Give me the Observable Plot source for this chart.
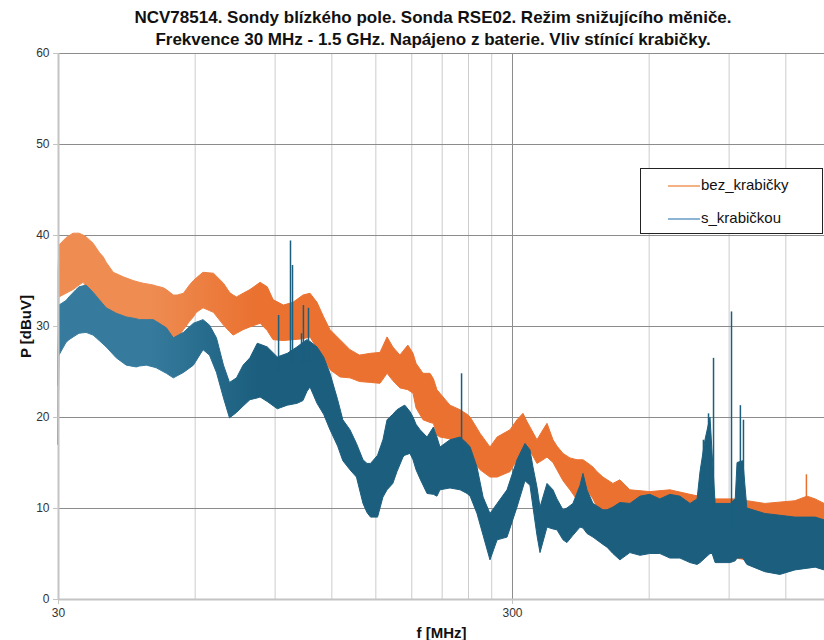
<!DOCTYPE html>
<html><head><meta charset="utf-8">
<script src="https://cdn.jsdelivr.net/npm/d3@7"></script>
<script src="https://cdn.jsdelivr.net/npm/@observablehq/plot@0.6"></script>
<style>
body{margin:0;background:#fff;font-family:"Liberation Sans",Arial,sans-serif;}
#wrap{position:relative;width:824px;height:640px;overflow:hidden;}
#title{position:absolute;left:0;top:7px;width:866px;text-align:center;font-weight:bold;font-size:17px;line-height:22px;color:#111;}
#chart{position:absolute;left:0;top:48px;}
#legend{position:absolute;left:640px;top:168px;width:183px;height:66px;border:1px solid #222;background:#fff;box-sizing:border-box;}
.lrow{position:absolute;left:0;height:20px;font-size:15px;color:#111;}
.lline{position:absolute;left:27px;top:9px;width:32px;height:2px;}
.ltext{position:absolute;left:60px;top:0;white-space:nowrap;}
g[aria-label="x-axis label"] text, g[aria-label="y-axis label"] text{font-weight:bold;font-size:15px;fill:#111;}
</style>
</head><body>
<div id="wrap">
<div id="title"></div>
<div id="chart"></div>
<div id="legend"></div>
</div>
<script>
const titleLines = ["NCV78514. Sondy blízkého pole. Sonda RSE02. Režim snižujícího měniče.",
  "Frekvence 30 MHz - 1.5 GHz. Napájeno z baterie. Vliv stínící krabičky."];
const seriesNames = ["bez_krabičky", "s_krabičkou"];
const xLabel = "f [MHz]";
const yLabel = "P [dBuV]";
const xTickLabels = [30, 300];
const yTicks = [0, 10, 20, 30, 40, 50, 60];
const xGridMinor = [60, 90, 120, 150, 180, 210, 240, 270, 600, 900, 1200];

// bez_krabičky: envelope (min / max) of the dense trace, MHz and dBuV
const bezFreq = [30, 30.15, 31.24, 32.37, 33.37, 34.06, 34.58, 35.85, 36.97, 37.73, 38.31, 39.7, 41.77, 43.9, 45.32, 46.24, 48.65, 49.4, 51.19, 51.98, 53.85, 54.9, 56.68, 58.43, 59.62, 60.54, 62.6, 66.0, 69.44, 71.59, 72.9, 74.19, 76.7, 79.4, 83.6, 86.71, 89.3, 94.06, 98.78, 103.9, 107.7, 111.6, 115.4, 119.2, 125.4, 131.9, 138.4, 146.4, 153.6, 159.2, 163.9, 169.9, 176.9, 181.6, 184.4, 191.0, 197.9, 201.4, 205.0, 208.2, 219.0, 230.5, 238.8, 242.6, 255.2, 268.3, 278.2, 297.0, 307.7, 317.2, 323.7, 340.5, 351.0, 358.3, 369.3, 376.8, 388.6, 402.5, 417.2, 430.0, 438.8, 452.4, 461.5, 475.8, 500.4, 518.5, 545.5, 603.6, 668.2, 740.1, 827.8, 930.8, 1081, 1260, 1339.5, 1396, 1460];
const bezLo = [23.5, 33.2, 33.6, 34, 34.5, 34.8, 34.4, 33.7, 32.6, 32, 31.7, 31.2, 30.7, 30.3, 30.1, 30, 29.9, 29.8, 29.4, 29.2, 28.5, 28.7, 29.6, 30.5, 31, 31.5, 32, 31.5, 30.1, 29.4, 29, 29.2, 29.6, 29.9, 30.3, 29.5, 28.5, 28.4, 28.5, 28.6, 28.8, 27.5, 26.5, 25.2, 24.4, 24.3, 23.9, 23.8, 23.7, 24.8, 24, 23.2, 23, 22.6, 21, 19.7, 19.4, 19.3, 18, 17.8, 17.6, 17, 16, 15.6, 14.2, 13.4, 13.4, 14, 15.3, 16.5, 16.9, 14.9, 15.3, 15.6, 15, 14.2, 13, 12, 10.9, 11.5, 12, 11, 10.1, 9.5, 8.7, 7.5, 5.7, 5.5, 5.5, 5, 5, 4.5, 4, 4, 4, 4, 4];
const bezHi = [36, 38.9, 39.7, 40.2, 40.2, 40, 39.8, 39.1, 38.1, 37.6, 37, 35.9, 35.4, 35, 34.8, 34.7, 34.5, 34.4, 34.2, 34, 33.4, 33.4, 33.6, 34.5, 35, 35.3, 35.9, 35.8, 34.7, 33.7, 33.4, 33.2, 33.6, 34, 34.8, 34.3, 32.9, 32.3, 32.6, 33.4, 33.6, 32.6, 31, 29.6, 28.5, 27.4, 26.8, 27, 27.1, 28.8, 27.7, 26.8, 27.9, 27, 25.9, 24.8, 24.8, 24.2, 23, 22.6, 21.3, 20.8, 20.3, 20, 18.2, 16.7, 17.8, 18.6, 19.7, 20.4, 19.5, 17.5, 18.6, 19.3, 17.5, 16.8, 16, 15.5, 15.3, 15.3, 15, 14.5, 14, 13.4, 12.7, 13.1, 12, 11.8, 12, 11.5, 11, 11, 10.5, 10.8, 11.3, 11, 10.5];
const bezSpikeFreq = [1332];
const bezSpikeBase = [10];
const bezSpikeTop = [13.7];

// s_krabičkou: envelope (min / max) of the dense trace, MHz and dBuV
const sFreq = [30, 30.15, 31.24, 31.72, 32.87, 33.37, 34.58, 35.85, 36.41, 36.97, 38.31, 40.31, 42.41, 44.63, 45.32, 46.95, 48.65, 49.4, 51.98, 53.85, 56.68, 59.62, 62.6, 64.68, 67.01, 69.44, 71.59, 74.19, 76.7, 79.4, 82.42, 83.6, 86.71, 91.25, 95.99, 100.8, 103.9, 106, 107.7, 111.6, 115.4, 119.2, 123.9, 127.2, 131.9, 136.3, 140.9, 143.8, 146.4, 151.7, 155.9, 159.2, 163.9, 167.4, 172.6, 174.2, 178.8, 181.6, 184.4, 188.2, 195, 201.4, 205.0, 208.2, 219.0, 230.5, 238.8, 242.6, 251.2, 259.1, 268.3, 278.2, 292.5, 307.7, 320.4, 328.6, 333.7, 340.5, 345.8, 358.3, 369.3, 376.8, 388.6, 396.4, 408.6, 423.6, 430.0, 438.8, 452.4, 475.8, 485.7, 500.4, 518.5, 545.5, 574.2, 603.6, 635, 668.2, 703.0, 740.1, 767.0, 778.5, 798.3, 819, 827.8, 840.5, 907.5, 930.8, 939.3, 967.3, 987.2, 1081, 1167, 1260, 1396, 1460];
const sLo = [17, 26.8, 28.2, 28.5, 29, 29.2, 29.3, 29, 28.7, 28.4, 27.7, 26.5, 25.7, 25.5, 25.6, 25.7, 25.5, 25.4, 24.8, 24.3, 24.9, 25.7, 27.4, 26.8, 24.9, 22.1, 19.9, 20.5, 21.2, 21.9, 22.1, 22.2, 21.7, 20.9, 21.3, 21.5, 21.8, 22.8, 23.3, 21.5, 20.3, 18.6, 16.8, 15.2, 14.2, 13.4, 10.5, 9.5, 9, 9, 11.2, 12, 12.7, 14, 15.6, 15.8, 16, 15.3, 14.2, 13.2, 11.6, 11.5, 11.3, 12, 12.2, 12, 11.6, 11.3, 9.4, 7, 4.3, 6.5, 6.8, 10.1, 13, 12.5, 10.1, 7, 5.1, 7.9, 7.7, 7.6, 6.5, 6.2, 7, 7.9, 7.8, 7.2, 6.8, 6, 5.7, 5, 4.3, 5.1, 4.8, 5, 5, 4.5, 4.5, 4, 3.8, 4, 4.5, 5, 5, 4, 4, 4.2, 4.5, 4.5, 3.8, 3, 2.7, 3.2, 3.5, 3.2];
const sHi = [27, 32.3, 32.8, 33.2, 34, 34.3, 34.5, 33.7, 33.3, 32.9, 32, 31.4, 31, 30.8, 30.7, 30.7, 30.7, 30.5, 29.8, 28.7, 29.3, 30.3, 30.7, 30.1, 28.7, 25.7, 23.8, 24.3, 25.7, 26.5, 28.1, 28, 27.7, 26.6, 27, 27.7, 28.2, 28.5, 28.3, 27.7, 26.6, 24.8, 21.9, 19.7, 18.6, 17.1, 15.3, 14.9, 14.9, 15.8, 17.5, 19.7, 20.3, 20.8, 21.2, 21.3, 20.6, 20, 19.2, 18.6, 17.8, 18.9, 17.8, 16.7, 17.5, 17.8, 17.1, 16.7, 14.5, 11.2, 9.4, 10.5, 12, 15.3, 17.1, 16.4, 14.5, 12.3, 10.1, 12.7, 12, 11, 9.8, 10, 10.5, 12.5, 13.8, 12, 10.5, 9.8, 9.8, 10.1, 10.6, 10.5, 11.3, 11.5, 11, 11.5, 11.3, 10.5, 11, 14, 17.5, 20, 16, 10.5, 10.5, 11, 15, 15.2, 10, 9.4, 9.2, 9, 9, 8.7];
const sSpikeFreq = [91.6, 97.3, 98.3, 102.9, 103.9, 106.6, 231.7, 790, 810.7, 831.6, 911, 953, 968];
const sSpikeBase = [25, 26, 26, 26, 26, 26, 16, 12, 12, 10, 8, 12, 12];
const sSpikeTop = [31.2, 39.4, 36.7, 29.2, 32.3, 32, 24.8, 17.5, 20.4, 26.5, 31.6, 21.3, 19.7];

const colBez = "#EA7130", colBezLight = "#EE8C52";
const colS = "#1B5E7E", colSLight = "#367B9D";
const legendCols = ["#F4B183", "#8DB4D2"];

const bez = bezFreq.map((f, i) => ({f, lo: bezLo[i], hi: bezHi[i]}));
const sk = sFreq.map((f, i) => ({f, lo: sLo[i], hi: sHi[i]}));
const bezSp = bezSpikeFreq.map((f, i) => ({f, base: bezSpikeBase[i], top: bezSpikeTop[i]}));
const sSp = sSpikeFreq.map((f, i) => ({f, base: sSpikeBase[i], top: sSpikeTop[i]}));

document.getElementById("title").innerHTML = titleLines.join("<br>");

const chart = Plot.plot({
  width: 824, height: 592,
  marginLeft: 58, marginRight: 0, marginTop: 5, marginBottom: 41,
  style: {fontFamily: "'Liberation Sans', Arial, sans-serif", fontSize: "12px", color: "#333", background: "white", overflow: "visible"},
  x: {type: "log", domain: [30, 1460]},
  y: {domain: [0, 60]},
  marks: [
    Plot.ruleX(xGridMinor, {stroke: "#cccccc", strokeWidth: 1}),
    Plot.ruleY(yTicks.filter(d => d > 0), {stroke: "#8c8c8c", strokeWidth: 1}),
    Plot.ruleX([300], {stroke: "#8c8c8c", strokeWidth: 1}),
    Plot.areaY(bez, {x: "f", y1: "lo", y2: "hi", fill: "url(#gBez)", stroke: "url(#gBez)", strokeWidth: 1}),
    Plot.ruleX(bezSp, {x: "f", y1: "base", y2: "top", stroke: colBez, strokeWidth: 1.5}),
    Plot.areaY(sk, {x: "f", y1: "lo", y2: "hi", fill: "url(#gS)", stroke: "url(#gS)", strokeWidth: 1}),
    Plot.ruleX(sSp, {x: "f", y1: "base", y2: "top", stroke: colS, strokeWidth: 1.5}),
    Plot.ruleX([30], {stroke: "#c4c4c4", strokeWidth: 2}),
    Plot.ruleY([0], {stroke: "#c4c4c4", strokeWidth: 2}),
    Plot.axisX(xTickLabels, {tickFormat: d => String(d), tickSize: 5, stroke: "#c4c4c4", label: xLabel, labelAnchor: "center", labelOffset: 38, labelArrow: "none", fill: "#333"}),
    Plot.axisY(yTicks, {tickSize: 5, stroke: "#c4c4c4", label: yLabel, labelAnchor: "center", labelOffset: 38, labelArrow: "none", fill: "#333"})
  ]
});

// horizontal colour gradients (lighter comb-like left part)
const ns = "http://www.w3.org/2000/svg";
const defs = document.createElementNS(ns, "defs");
[["gBez", colBezLight, colBez], ["gS", colSLight, colS]].forEach(([id, c0, c1]) => {
  const g = document.createElementNS(ns, "linearGradient");
  g.setAttribute("id", id);
  g.setAttribute("gradientUnits", "userSpaceOnUse");
  g.setAttribute("x1", "58"); g.setAttribute("x2", "824");
  g.setAttribute("y1", "0"); g.setAttribute("y2", "0");
  [[0, c0], [0.12, c0], [0.26, c1], [1, c1]].forEach(([o, c]) => {
    const s = document.createElementNS(ns, "stop");
    s.setAttribute("offset", o);
    s.setAttribute("stop-color", c);
    g.appendChild(s);
  });
  defs.appendChild(g);
});
chart.insertBefore(defs, chart.firstChild);
document.getElementById("chart").appendChild(chart);

const leg = document.getElementById("legend");
seriesNames.forEach((n, i) => {
  const row = document.createElement("div");
  row.className = "lrow";
  row.style.top = (7 + i * 33) + "px";
  row.style.width = "180px";
  row.innerHTML = `<div class="lline" style="background:${legendCols[i]}"></div><div class="ltext">${n}</div>`;
  leg.appendChild(row);
});
</script>
</body></html>
